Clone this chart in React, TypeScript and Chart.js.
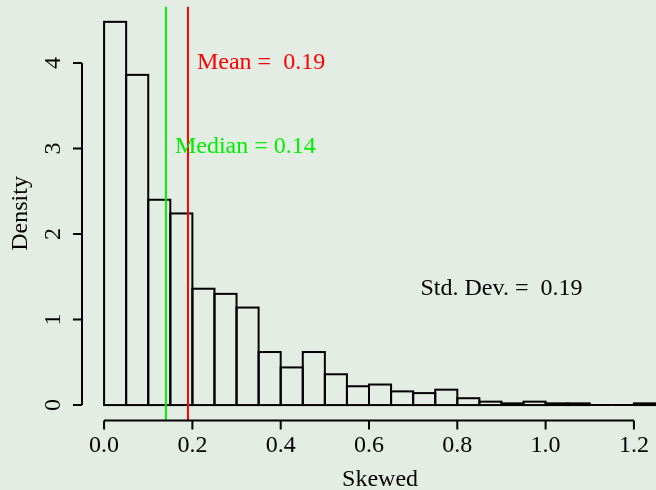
import React, { useEffect, useRef } from "react";
import { Chart, registerables } from "chart.js";

Chart.register(...registerables);

// Histogram of the skewed sample: left edge of each 0.05-wide bin and its density
const binStarts = [
  0.0, 0.05, 0.1, 0.15, 0.2, 0.25, 0.3, 0.35, 0.4, 0.45, 0.5, 0.55, 0.6,
  0.65, 0.7, 0.75, 0.8, 0.85, 0.9, 0.95, 1.0, 1.05, 1.1, 1.15, 1.2,
];
const densities = [
  4.48, 3.86, 2.4, 2.24, 1.36, 1.3, 1.14, 0.62, 0.44, 0.62, 0.36, 0.22, 0.24,
  0.16, 0.14, 0.18, 0.08, 0.04, 0.02, 0.04, 0.02, 0.02, 0.0, 0.0, 0.02,
];
const binWidth = 0.05;

// Summary statistics
const meanValue = 0.19;
const medianValue = 0.14;
const sdValue = 0.19;

// Axis ticks
const xTicks = [0, 0.2, 0.4, 0.6, 0.8, 1.0, 1.2];
const xTickLabels = ["0.0", "0.2", "0.4", "0.6", "0.8", "1.0", "1.2"];
const yTicks = [0, 1, 2, 3, 4];
const yTickLabels = ["0", "1", "2", "3", "4"];

const xTitle = "Skewed";
const yTitle = "Density";

const BG = "#e4ede4";
const RED = "#ff0000";
const GREEN = "#00ee00";
const FONT = '24px "Liberation Serif", "Times New Roman", serif';

export default function App() {
  const canvasRef = useRef<HTMLCanvasElement | null>(null);

  useEffect(() => {
    document.body.style.margin = "0";
    document.body.style.background = BG;
    const canvas = canvasRef.current;
    if (!canvas) return;

    const maxD = Math.max(...densities);
    const yLo = -0.04 * maxD;
    const yHi = maxD * 1.04;
    const xLo = -0.05;
    const xHi = 1.25;
    // full plotting range extends past the visible right edge
    const xFullHi = 1.3;

    const barData = binStarts.map((s, i) => ({ x: s + binWidth / 2, y: densities[i] }));

    // Outline each histogram bar with a centred stroke
    const outlinePlugin = {
      id: "histOutline",
      afterDatasetDraw(chart: any, args: any) {
        if (args.meta.type !== "bar") return;
        const ctx = chart.ctx;
        const area = chart.chartArea;
        ctx.save();
        ctx.beginPath();
        ctx.rect(area.left, area.top, area.right - area.left, area.bottom - area.top);
        ctx.clip();
        ctx.strokeStyle = "#000";
        ctx.lineWidth = 2;
        for (const el of args.meta.data) {
          const p = el.getProps(["x", "y", "base", "width"], true);
          ctx.strokeRect(p.x - p.width / 2, p.y, p.width, p.base - p.y);
        }
        ctx.restore();
      },
    };

    // Axes with ticks, labels and titles, plus the text annotations
    const axesPlugin = {
      id: "axesAndNotes",
      beforeDraw(chart: any) {
        const ctx = chart.ctx;
        ctx.save();
        ctx.fillStyle = BG;
        ctx.fillRect(0, 0, chart.width, chart.height);
        ctx.restore();
      },
      afterDraw(chart: any) {
        const ctx = chart.ctx;
        const xs = chart.scales.x;
        const ys = chart.scales.y;
        const area = chart.chartArea;
        ctx.save();
        ctx.strokeStyle = "#000";
        ctx.fillStyle = "#000";
        ctx.lineWidth = 2;
        ctx.font = FONT;

        // x axis
        const xa = xs.getPixelForValue(xTicks[0]);
        const xb = xs.getPixelForValue(xTicks[xTicks.length - 1]);
        ctx.beginPath();
        ctx.moveTo(xa, area.bottom);
        ctx.lineTo(xb, area.bottom);
        for (const t of xTicks) {
          const px = xs.getPixelForValue(t);
          ctx.moveTo(px, area.bottom);
          ctx.lineTo(px, area.bottom + 9);
        }
        ctx.stroke();
        ctx.textAlign = "center";
        ctx.textBaseline = "alphabetic";
        xTicks.forEach((t, i) => {
          ctx.fillText(xTickLabels[i], xs.getPixelForValue(t), area.bottom + 32);
        });
        ctx.fillText(xTitle, xs.getPixelForValue((xLo + xFullHi) / 2), area.bottom + 66);

        // y axis
        const ya = ys.getPixelForValue(yTicks[0]);
        const yb = ys.getPixelForValue(yTicks[yTicks.length - 1]);
        ctx.beginPath();
        ctx.moveTo(area.left, ya);
        ctx.lineTo(area.left, yb);
        for (const t of yTicks) {
          const py = ys.getPixelForValue(t);
          ctx.moveTo(area.left, py);
          ctx.lineTo(area.left - 9, py);
        }
        ctx.stroke();
        yTicks.forEach((t, i) => {
          ctx.save();
          ctx.translate(area.left - 22, ys.getPixelForValue(t));
          ctx.rotate(-Math.PI / 2);
          ctx.fillText(yTickLabels[i], 0, 0);
          ctx.restore();
        });
        ctx.save();
        ctx.translate(area.left - 55, (area.top + area.bottom) / 2);
        ctx.rotate(-Math.PI / 2);
        ctx.fillText(yTitle, 0, 0);
        ctx.restore();

        // annotations
        ctx.textAlign = "left";
        ctx.fillStyle = RED;
        ctx.fillText("Mean =  " + meanValue.toFixed(2), xs.getPixelForValue(meanValue) + 9, ys.getPixelForValue(4) + 6.5);
        ctx.fillStyle = GREEN;
        ctx.fillText("Median = " + medianValue.toFixed(2), xs.getPixelForValue(medianValue) + 9, ys.getPixelForValue(3) + 5);
        ctx.fillStyle = "#000";
        ctx.textAlign = "center";
        ctx.fillText("Std. Dev. =  " + sdValue.toFixed(2), xs.getPixelForValue(0.9), ys.getPixelForValue(1.36) + 6);
        ctx.restore();
      },
    };

    const chart = new Chart(canvas, {
      type: "bar",
      data: {
        datasets: [
          {
            type: "line",
            label: "Median",
            data: [
              { x: medianValue, y: yLo },
              { x: medianValue, y: yHi },
            ],
            borderColor: GREEN,
            borderWidth: 2,
            pointRadius: 0,
            order: 1,
          } as any,
          {
            type: "line",
            label: "Mean",
            data: [
              { x: meanValue, y: yLo },
              { x: meanValue, y: yHi },
            ],
            borderColor: RED,
            borderWidth: 2,
            pointRadius: 0,
            order: 1,
          } as any,
          {
            type: "bar",
            label: "Density",
            data: barData,
            backgroundColor: "rgba(0,0,0,0)",
            borderWidth: 0,
            barPercentage: 1,
            categoryPercentage: 1,
            inflateAmount: 0,
            order: 2,
          } as any,
        ],
      },
      options: {
        responsive: false,
        animation: false,
        events: [],
        layout: { padding: { left: 82, right: 0, top: 6.5, bottom: 69.6 } },
        plugins: {
          legend: { display: false },
          tooltip: { enabled: false },
        },
        scales: {
          x: { type: "linear", min: xLo, max: xHi, display: false, offset: false },
          y: { type: "linear", min: yLo, max: yHi, display: false },
        },
      },
      plugins: [outlinePlugin, axesPlugin],
    });

    return () => chart.destroy();
  }, []);

  return (
    <div style={{ position: "fixed", left: 0, top: 0, width: 656, height: 490, background: BG }}>
      <canvas ref={canvasRef} width={656} height={490} style={{ display: "block" }} />
    </div>
  );
}
